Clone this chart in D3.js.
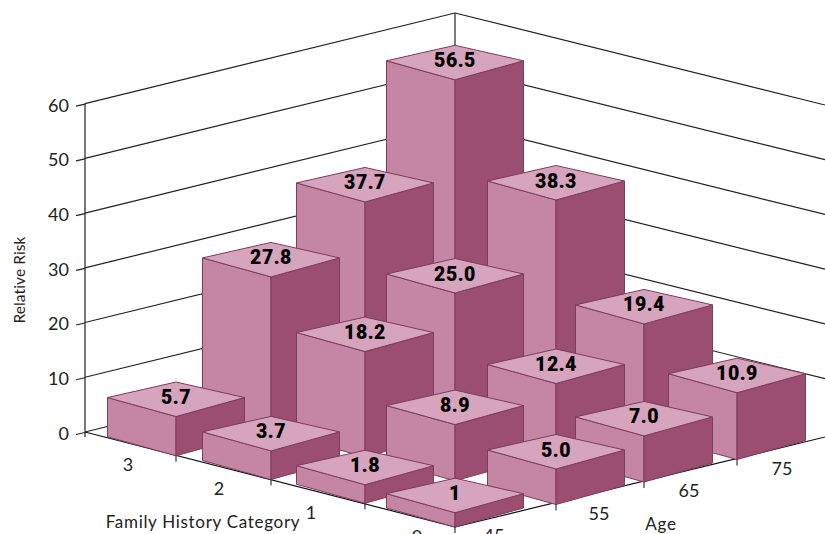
<!DOCTYPE html>
<html>
<head>
<meta charset="utf-8">
<script src="https://cdn.jsdelivr.net/npm/d3@7/dist/d3.min.js"></script>
<style>
  html, body { margin: 0; padding: 0; background: #fff; overflow: hidden; }
  svg { display: block; }
  text { font-family: Lato, "Open Sans", sans-serif; fill: #222; }
</style>
</head>
<body>
<svg id="chart" width="825" height="534"></svg>
<script>
// Relative risk by age and family history category
const ages = [45, 55, 65, 75];
const families = [3, 2, 1, 0];
const risk45 = [5.7, 3.7, 1.8, 1];
const risk55 = [27.8, 18.2, 8.9, 5.0];
const risk65 = [37.7, 25.0, 12.4, 7.0];
const risk75 = [56.5, 38.3, 19.4, 10.9];
const riskByAge = [risk45, risk55, risk65, risk75];
const riskTicks = [0, 10, 20, 30, 40, 50, 60];

const colors = { top: "#d6a4bc", left: "#c486a2", right: "#9c4e70", edge: "#7c3c5e", axis: "#222" };

const svg = d3.select("#chart");

// Oblique projection: cells run along two floor directions, u (family) and w (age)
const sx = d3.scaleLinear().domain([0, 1, 2, 3, 4, 5, 6, 7, 8])
  .range([85, 176, 271, 365, 455, 556, 644, 737, 825]);
const floorU = d3.scaleLinear().domain([0, 4]).range([432, 527]);
const floorW = d3.scaleLinear().domain([0, 4]).range([0, -90]);
const baseY = (u, w) => floorU(u) + floorW(w);

const y = d3.scaleLinear().domain([0, 60]).range([432, 103.6]);
const barHeight = d3.scaleLinear().domain([0, 60]).range([9, 327]);

const familyLabelX = d3.scaleOrdinal().domain(families).range([128, 219, 311, 417]);
const ageLabelX = d3.scaleOrdinal().domain(ages).range([494, 599, 689, 782]);

const footprint = { halfWidth: 68.5, side: 19, back: 34.5 };
const wall = { backX: sx(4), rightX: sx(8), rise: 90.6, fall: 92 };

// Back walls and their grid lines
const walls = svg.append("g").attr("fill", "none").attr("stroke", colors.axis).attr("stroke-width", 1.2);
walls.selectAll("line.left").data(riskTicks).join("line").attr("class", "left")
  .attr("x1", sx(0)).attr("y1", d => y(d))
  .attr("x2", wall.backX).attr("y2", d => y(d) - wall.rise);
walls.selectAll("line.right").data(riskTicks.filter(d => d > 0)).join("line").attr("class", "right")
  .attr("x1", wall.backX).attr("y1", d => y(d) - wall.rise)
  .attr("x2", wall.rightX).attr("y2", d => y(d) - wall.rise + wall.fall);
walls.append("line")
  .attr("x1", wall.backX).attr("x2", wall.backX)
  .attr("y1", y(60) - wall.rise).attr("y2", y(0) - wall.rise);

// Value axis: the ticks continue the slant of the grid lines
const axis = svg.append("g").attr("transform", `translate(${sx(0)},0)`)
  .call(d3.axisLeft(y).tickValues(riskTicks).tickSizeOuter(0).tickPadding(0));
axis.select(".domain").remove();
axis.selectAll(".tick line").attr("x2", -9).attr("y2", 2).attr("stroke", colors.axis).attr("stroke-width", 1.2);
axis.selectAll(".tick text").attr("x", -16).attr("dy", "0.58em").attr("y", -3)
  .style("font-size", "18px").style("font-family", "Lato, sans-serif").attr("fill", "#222");
svg.append("line").attr("x1", sx(0)).attr("x2", sx(0))
  .attr("y1", y(60)).attr("y2", y(0) + 5).attr("stroke", colors.axis).attr("stroke-width", 1.2);

// Floor edges along the two front sides
const floor = svg.append("g").attr("stroke", "#111").attr("stroke-width", 1.2);
floor.append("line")
  .attr("x1", sx(0)).attr("y1", baseY(0, 0)).attr("x2", sx(4)).attr("y2", baseY(4, 0));
floor.append("line")
  .attr("x1", sx(4)).attr("y1", baseY(4, 0)).attr("x2", sx(8)).attr("y2", baseY(4, 4));

// Bars, painted from the back corner forward
const cells = [];
ages.forEach((age, w) => families.forEach((family, u) => {
  cells.push({ age, family, u: u + 1, w, value: riskByAge[w][u] });
}));
cells.sort((a, b) => (b.w - b.u) - (a.w - a.u));

const formatRisk = v => (v === 1 ? "1" : d3.format(".1f")(v));
const poly = pts => pts.map(p => p.join(",")).join(" ");

const bars = svg.append("g").selectAll("g").data(cells).join("g")
  .attr("stroke", colors.edge).attr("stroke-width", 1).attr("stroke-linejoin", "round");

const geom = d => {
  const x = sx(d.u + d.w);
  const yb = baseY(d.u, d.w);
  const yt = yb - barHeight(d.value);
  return { x, yb, yt, xl: x - footprint.halfWidth, xr: x + footprint.halfWidth };
};

bars.append("polygon").attr("fill", colors.left).attr("points", d => {
  const g = geom(d);
  return poly([[g.xl, g.yt - footprint.side], [g.x, g.yt], [g.x, g.yb], [g.xl, g.yb - footprint.side]]);
});
bars.append("polygon").attr("fill", colors.right).attr("points", d => {
  const g = geom(d);
  return poly([[g.xr, g.yt - footprint.side], [g.x, g.yt], [g.x, g.yb], [g.xr, g.yb - footprint.side]]);
});
bars.append("polygon").attr("fill", colors.top).attr("points", d => {
  const g = geom(d);
  return poly([[g.xl, g.yt - footprint.side], [g.x, g.yt - footprint.back], [g.xr, g.yt - footprint.side], [g.x, g.yt]]);
});

// Value printed on each bar's top face
svg.append("g").selectAll("text").data(cells).join("text")
  .attr("x", d => geom(d).x)
  .attr("y", d => geom(d).yt - footprint.side + 6.5)
  .attr("text-anchor", "middle")
  .style("font-family", "Roboto, Inter, sans-serif")
  .style("font-size", "19.5px").style("font-weight", 900).style("letter-spacing", "0.5px").style("fill", "#000")
  .text(d => formatRisk(d.value));

// Floor ticks and their category labels
const tickGroup = svg.append("g").attr("stroke", "#111");
d3.range(1, 5).forEach(u => {
  tickGroup.append("line").attr("x1", sx(u)).attr("x2", sx(u))
    .attr("y1", baseY(u, 0)).attr("y2", baseY(u, 0) + 6);
});
d3.range(1, 4).forEach(w => {
  tickGroup.append("line").attr("x1", sx(4 + w)).attr("x2", sx(4 + w))
    .attr("y1", baseY(4, w)).attr("y2", baseY(4, w) + 6);
});

const tickLabels = svg.append("g").style("font-size", "18px").attr("text-anchor", "middle");
tickLabels.selectAll("text.family").data(families).join("text").attr("class", "family")
  .attr("x", d => familyLabelX(d))
  .attr("y", (d, i) => baseY(i + 1, 0) + 15.5)
  .text(d => d);
tickLabels.selectAll("text.age").data(ages).join("text").attr("class", "age")
  .attr("x", d => ageLabelX(d))
  .attr("y", (d, i) => baseY(4, i) + 15)
  .text(d => d);

// Axis titles
const titles = svg.append("g").style("font-size", "17px").style("letter-spacing", "0.7px");
titles.append("text").attr("x", 203).attr("y", 528).attr("text-anchor", "middle").text("Family History Category");
titles.append("text").attr("x", 661).attr("y", 530).attr("text-anchor", "middle").text("Age");
titles.append("text").attr("transform", "translate(25,280) rotate(-90)").attr("text-anchor", "middle")
  .style("font-size", "15.5px").style("letter-spacing", "0.1px").text("Relative Risk");
</script>
</body>
</html>
